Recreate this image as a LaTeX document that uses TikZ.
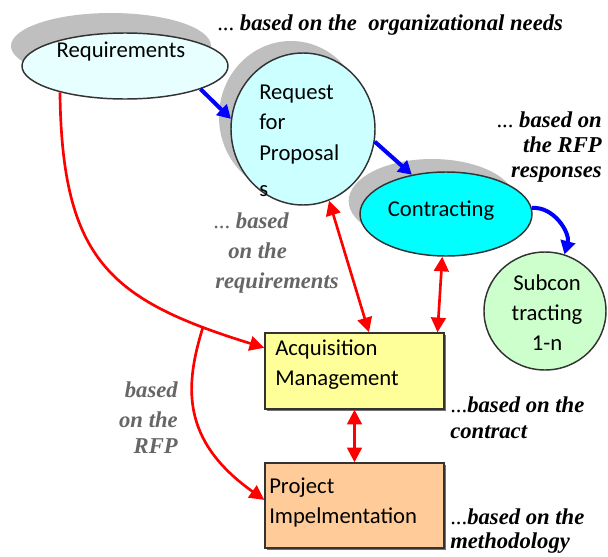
\documentclass[tikz,border=0pt]{standalone}
\usepackage{fontspec}
\setmainfont{Carlito}
\newfontfamily\annfont{Liberation Serif}
\usetikzlibrary{shapes.geometric,arrows.meta,calc}
\definecolor{reqfill}{HTML}{E8FFFF}
\definecolor{rfpfill}{HTML}{CCFFFF}
\definecolor{confill}{HTML}{00FFFF}
\definecolor{subfill}{HTML}{CCFFCC}
\definecolor{acqfill}{HTML}{FFFF99}
\definecolor{prjfill}{HTML}{FFCC99}
\definecolor{shadowgray}{HTML}{BFBFBF}
\definecolor{bordergray}{HTML}{333333}
\definecolor{redline}{HTML}{FF0000}
\definecolor{blueline}{HTML}{0000FF}
\begin{document}
\begin{tikzpicture}[x=0.75pt,y=-0.75pt,
  bord/.style={draw=bordergray,line width=1.1pt},
  shd/.style={ellipse,fill=shadowgray,draw=none,inner sep=0pt},
  ell/.style={ellipse,inner sep=0pt,bord},
  box/.style={rectangle,inner sep=0pt,bord},
  lbl/.style={inner sep=0pt,font=\fontsize{17}{20}\selectfont},
  ann/.style={inner sep=0pt,font=\annfont\bfseries\itshape\fontsize{17}{20}\selectfont},
  gann/.style={ann,text=black!60},
  redarr/.style={draw=redline,line width=2pt,-{Triangle[length=11pt,width=11pt]}},
  reddbl/.style={draw=redline,line width=2pt,{Triangle[length=11pt,width=11pt]}-{Triangle[length=11pt,width=11pt]}},
  bluearr/.style={draw=blueline,line width=3pt,-{Triangle[length=10pt,width=11pt]}}
]
\useasboundingbox (0,0) rectangle (608,557);

% shadows
\node[shd,minimum width=150pt,minimum height=49.5pt] (reqshadow) at (111,46) {};
\node[shd,minimum width=108pt,minimum height=114pt] (rfpshadow) at (291,117) {};
\node[shd,minimum width=125pt,minimum height=63pt] (conshadow) at (432,201) {};
\node[rectangle,fill=black!55,draw=none,inner sep=0pt,minimum width=134.25pt,minimum height=57pt] (acqshadow) at (356.5,373) {};
\node[rectangle,fill=black!55,draw=none,inner sep=0pt,minimum width=134.25pt,minimum height=63.75pt] (prjshadow) at (356.5,507.5) {};

% shapes
\node[ell,fill=reqfill,minimum width=154.5pt,minimum height=49.5pt] (req) at (125,66) {};
\node[ell,fill=rfpfill,minimum width=108pt,minimum height=114pt] (rfp) at (303,129) {};
\node[ell,fill=confill,minimum width=129pt,minimum height=63pt] (con) at (446,214) {};
\node[ell,fill=subfill,minimum width=91.5pt,minimum height=88.5pt] (sub) at (545,311) {};
\node[box,fill=acqfill,minimum width=134.25pt,minimum height=57pt] (acq) at (354.5,371) {};
\node[box,fill=prjfill,minimum width=134.25pt,minimum height=63.75pt] (prj) at (354.5,505.5) {};

% node texts
\node[lbl,anchor=base] (reqt) at (121,57) {Requirements};
\node[lbl,anchor=base west] (rfpt1) at (259,99) {Request};
\node[lbl,anchor=base west] (rfpt2) at (259,129) {for};
\node[lbl,anchor=base west] (rfpt3) at (259,160) {Proposal};
\node[lbl,anchor=base west] (rfpt4) at (259,196) {s};
\node[lbl,anchor=base] (cont) at (441,216) {Contracting};
\node[lbl,anchor=base] (subt1) at (547,290) {Subcon};
\node[lbl,anchor=base] (subt2) at (547,320) {tracting};
\node[lbl,anchor=base] (subt3) at (547,350) {1-n};
\node[lbl,anchor=base west] (acqt1) at (275,355) {Acquisition};
\node[lbl,anchor=base west] (acqt2) at (275,385) {Management};
\node[lbl,anchor=base west] (prjt1) at (269,493) {Project};
\node[lbl,anchor=base west] (prjt2) at (269,523) {Impelmentation};

% connectors
\coordinate (branch) at (203,327);
\draw[redarr] (req.202) .. controls (62,260) and (110,300) .. ($(acq.north west)!0.2!(acq.south west)$);
\draw[redarr] (branch) .. controls (185,385) and (180,440) .. ($(prj.north west)!0.435!(prj.south west)$);
\draw[reddbl] (rfp.290) -- ($(acq.north west)!0.58!(acq.north east)$);
\draw[reddbl] (con.265) -- ($(acq.north west)!0.96!(acq.north east)$);
\draw[reddbl] (acq.south) -- (prj.north);
\draw[bluearr] (req.343.7) -- (rfp.172.7);
\draw[bluearr] (rfp.350.7) -- (con.131);
\draw[bluearr] (con.4.9) to[out=5,in=75] (sub.71);

% annotations
\node[ann,anchor=base west] (a1) at (217,30) {\mdseries\upshape...\bfseries\itshape\ based on the\ \ organizational needs};
\node[ann,anchor=base east] (a2a) at (602,127) {\mdseries\upshape...\bfseries\itshape\ based on};
\node[ann,anchor=base east] (a2b) at (602,152) {the RFP};
\node[ann,anchor=base east] (a2c) at (602,177) {responses};
\node[ann,anchor=base west] (a3a) at (450,412) {\mdseries\upshape...\bfseries\itshape based on the};
\node[ann,anchor=base west] (a3b) at (450,438) {contract};
\node[ann,anchor=base west] (a4a) at (450,524) {\mdseries\upshape...\bfseries\itshape based on the};
\node[ann,anchor=base west] (a4b) at (450,548) {methodology};
\node[gann,anchor=base west] (g1a) at (213,228) {\mdseries\upshape...\bfseries\itshape\ based};
\node[gann,anchor=base west] (g1b) at (228,258) {on the};
\node[gann,anchor=base west] (g1c) at (215,288) {requirements};
\node[gann,anchor=base east] (g2a) at (178,397) {based};
\node[gann,anchor=base east] (g2b) at (178,427) {on the};
\node[gann,anchor=base east] (g2c) at (178,453) {RFP};
\end{tikzpicture}
\end{document}
